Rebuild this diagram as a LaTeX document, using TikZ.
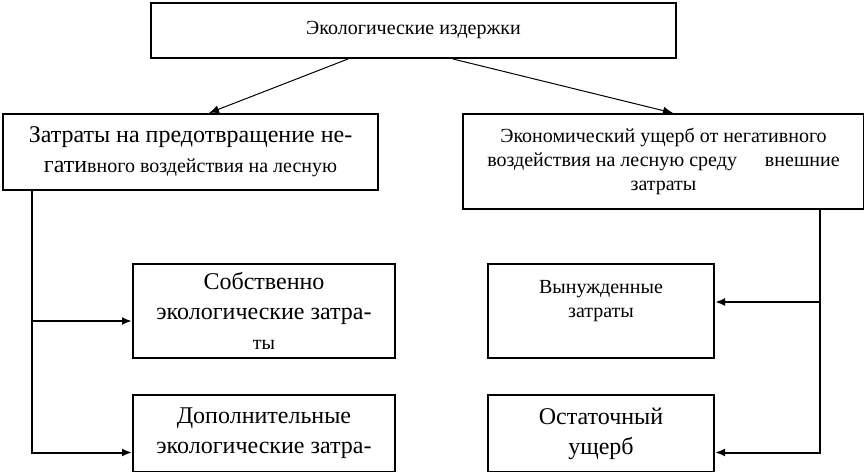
\documentclass[tikz,border=0pt]{standalone}
\usepackage{fontspec}
\setmainfont{Liberation Serif}
\usetikzlibrary{arrows.meta}

\begin{document}
\begin{tikzpicture}[x=1pt,y=-1pt,>={Latex[length=10pt,width=8pt]},
  box/.style={shape=rectangle,draw,line width=2pt,anchor=north west,align=center,inner sep=0pt},
  bigtext/.style={font=\fontsize{24}{30}\selectfont},
  smalltext/.style={font=\fontsize{20}{24}\selectfont}]
\useasboundingbox (0,0) rectangle (864,471);
\node    (eco) at (150,  2) [box,smalltext,minimum width=525pt,minimum height=55pt] {Экологические издержки};
\node (prevent) at (2,  113) [box,bigtext,minimum width=375pt,minimum height=76pt] {Затраты на предотвращение не-\\гати{\fontsize{20}{24}\selectfont вного воздействия на лесную}};
\node (damage) at (462, 113) [box,smalltext,minimum width=401pt,minimum height=95pt] {Экономический ущерб от негативного\\воздействия на лесную среду\hspace{1.4em}внешние\\затраты};
\node    (own) at (132, 263) [box,bigtext,minimum width=262pt,minimum height=94pt] {Собственно\\экологические затра-\\{\fontsize{20}{22}\selectfont ты}};
\node  (extra) at (132, 394) [box,bigtext,minimum width=262pt,minimum height=77pt] {Дополнительные\\экологические затра-};
\node (forced) at (487, 263) [box,smalltext,minimum width=226pt,minimum height=94pt] {Вынужденные\\затраты\\\mbox{}};
\node (residual) at (487, 394) [box,bigtext,minimum width=226pt,minimum height=77pt] {Остаточный\\ущерб};
\draw [->,line width=1pt] ([xshift=-65.5pt]eco.south) -- ([xshift=18.5pt]prevent.north);
\draw [->,line width=1pt]  ([xshift=39.5pt]eco.south) -- ([xshift=9.5pt]damage.north);
\draw [->,line width=2pt] ([xshift=30pt]prevent.south west) |- ([yshift=-10pt]own.west);
\draw [->,line width=2pt] ([xshift=30pt]prevent.south west) |- ([yshift=-19pt]extra.west);
\draw [->,line width=2pt] ([xshift=-45pt]damage.south east) |- ([yshift=9pt]forced.east);
\draw [->,line width=2pt] ([xshift=-45pt]damage.south east) |- ([yshift=-19pt]residual.east);
\end{tikzpicture}
\end{document}
